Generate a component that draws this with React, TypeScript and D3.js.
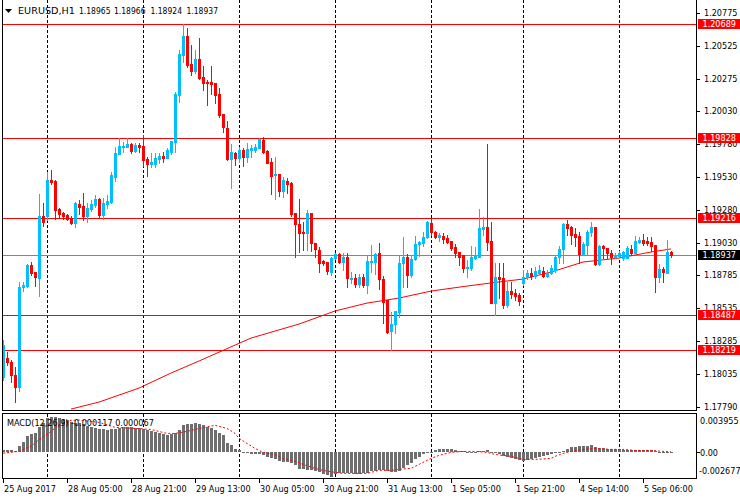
import React from 'react';
import * as d3 from 'd3';

// ---------- DATA ----------
const symbolTitle = 'EURUSD,H1';
const lastOHLC = [1.18965, 1.18966, 1.18924, 1.18937];

const open = [1.18015,1.18159,1.18128,1.18030,1.17939,1.18697,1.18704,1.18863,1.18810,1.18765,1.19235,1.19235,1.19507,1.19500,1.19288,1.19257,1.19242,1.19212,1.19182,1.19326,1.19310,1.19235,1.19288,1.19318,1.19363,1.19242,1.19326,1.19341,1.19530,1.19704,1.19757,1.19757,1.19780,1.19727,1.19772,1.19765,1.19666,1.19628,1.19628,1.19666,1.19689,1.19674,1.19719,1.19795,1.20151,1.20454,1.20598,1.20386,1.20333,1.20424,1.20288,1.20250,1.20250,1.20242,1.20159,1.20007,1.19901,1.19666,1.19712,1.19674,1.19735,1.19682,1.19735,1.19735,1.19750,1.19810,1.19727,1.19644,1.19545,1.19553,1.19424,1.19500,1.19485,1.19257,1.19174,1.19113,1.19106,1.19257,1.19030,1.18977,1.18894,1.18886,1.18810,1.18916,1.18947,1.18886,1.18924,1.18757,1.18765,1.18719,1.18772,1.18712,1.18886,1.18886,1.18954,1.18757,1.18598,1.18363,1.18416,1.18507,1.18879,1.18924,1.18788,1.18909,1.19022,1.19030,1.19076,1.19182,1.19113,1.19076,1.19083,1.19068,1.19045,1.19000,1.18962,1.18939,1.18841,1.18841,1.18916,1.18924,1.19136,1.19151,1.19045,1.18575,1.18772,1.18765,1.18560,1.18666,1.18651,1.18636,1.18727,1.18772,1.18803,1.18780,1.18803,1.18818,1.18780,1.18803,1.18826,1.18924,1.18985,1.19174,1.19151,1.19098,1.19083,1.18947,1.19015,1.19113,1.19151,1.18871,1.19007,1.18992,1.18954,1.18924,1.18932,1.18916,1.18916,1.18985,1.18954,1.19038,1.19053,1.19045,1.19038,1.19015,1.18772,1.18833,1.18803,1.18965];
const high = [1.18295,1.18204,1.18144,1.18091,1.18735,1.18735,1.18871,1.18886,1.18810,1.19401,1.19333,1.19568,1.19583,1.19507,1.19295,1.19265,1.19250,1.19235,1.19341,1.19356,1.19409,1.19333,1.19356,1.19394,1.19371,1.19371,1.19394,1.19568,1.19757,1.19826,1.19795,1.19826,1.19788,1.19788,1.19788,1.19848,1.19682,1.19712,1.19712,1.19712,1.19719,1.19750,1.19803,1.20174,1.20492,1.20689,1.20659,1.20530,1.20492,1.20583,1.20371,1.20265,1.20371,1.20242,1.20204,1.20007,1.19954,1.19780,1.19719,1.19757,1.19750,1.19788,1.19772,1.19780,1.19828,1.19833,1.19735,1.19674,1.19682,1.19553,1.19530,1.19523,1.19492,1.19257,1.19363,1.19189,1.19280,1.19257,1.19030,1.19000,1.18901,1.18886,1.18924,1.18954,1.18954,1.18954,1.18954,1.18810,1.18795,1.18795,1.18795,1.18939,1.19015,1.18954,1.19030,1.18780,1.18598,1.18507,1.18515,1.18939,1.19076,1.18947,1.18939,1.19083,1.19045,1.19113,1.19197,1.19212,1.19121,1.19106,1.19106,1.19091,1.19045,1.19022,1.18962,1.18939,1.18901,1.19007,1.19000,1.19288,1.19227,1.19780,1.19189,1.18879,1.18879,1.18879,1.18735,1.18735,1.18682,1.18651,1.18826,1.18826,1.18841,1.18848,1.18863,1.18848,1.18826,1.18863,1.18939,1.19007,1.19182,1.19204,1.19159,1.19144,1.19113,1.19038,1.19129,1.19189,1.19151,1.19015,1.19015,1.18992,1.18977,1.18954,1.18969,1.18969,1.19007,1.19015,1.19083,1.19076,1.19098,1.19076,1.19076,1.19015,1.18871,1.18848,1.19053,1.18966];
const low = [1.17992,1.18106,1.17977,1.17825,1.17909,1.18666,1.18697,1.18788,1.18704,1.18629,1.19159,1.19204,1.19477,1.19212,1.19227,1.19212,1.19204,1.19174,1.19151,1.19250,1.19204,1.19189,1.19272,1.19303,1.19227,1.19212,1.19295,1.19333,1.19500,1.19704,1.19719,1.19757,1.19712,1.19719,1.19719,1.19613,1.19538,1.19606,1.19606,1.19636,1.19644,1.19674,1.19704,1.19719,1.20098,1.20401,1.20363,1.20303,1.20318,1.20273,1.20189,1.20076,1.20159,1.20091,1.19985,1.19871,1.19659,1.19447,1.19621,1.19644,1.19613,1.19644,1.19682,1.19719,1.19750,1.19712,1.19636,1.19401,1.19363,1.19386,1.19379,1.19409,1.19235,1.18924,1.18962,1.18977,1.18977,1.18969,1.18924,1.18810,1.18863,1.18795,1.18788,1.18909,1.18879,1.18826,1.18697,1.18727,1.18697,1.18697,1.18697,1.18651,1.18810,1.18795,1.18682,1.18424,1.18348,1.18219,1.18348,1.18469,1.18697,1.18697,1.18772,1.18901,1.18932,1.19007,1.19068,1.19091,1.19068,1.19045,1.19030,1.19030,1.18977,1.18924,1.18863,1.18810,1.18772,1.18826,1.18909,1.18924,1.19091,1.18977,1.18575,1.18487,1.18613,1.18538,1.18545,1.18613,1.18598,1.18560,1.18712,1.18757,1.18757,1.18765,1.18795,1.18772,1.18772,1.18795,1.18810,1.18879,1.18879,1.19091,1.19022,1.19007,1.18879,1.18939,1.18939,1.19083,1.18863,1.18863,1.18916,1.18916,1.18871,1.18916,1.18924,1.18901,1.18916,1.18939,1.18954,1.19030,1.19015,1.19015,1.18969,1.18659,1.18735,1.18735,1.18803,1.18924];
const close = [1.18257,1.18128,1.18030,1.17939,1.18697,1.18712,1.18863,1.18803,1.18772,1.19235,1.19189,1.19507,1.19492,1.19280,1.19250,1.19235,1.19212,1.19182,1.19333,1.19303,1.19235,1.19295,1.19326,1.19363,1.19242,1.19333,1.19348,1.19545,1.19712,1.19765,1.19765,1.19780,1.19727,1.19772,1.19757,1.19659,1.19628,1.19644,1.19674,1.19689,1.19674,1.19735,1.19803,1.20159,1.20462,1.20598,1.20379,1.20333,1.20424,1.20280,1.20242,1.20242,1.20235,1.20151,1.20000,1.19909,1.19666,1.19719,1.19674,1.19735,1.19682,1.19742,1.19750,1.19757,1.19818,1.19719,1.19636,1.19538,1.19553,1.19424,1.19507,1.19477,1.19250,1.19174,1.19106,1.19106,1.19257,1.19030,1.18985,1.18879,1.18879,1.18818,1.18916,1.18947,1.18886,1.18924,1.18765,1.18765,1.18719,1.18772,1.18712,1.18894,1.18894,1.18947,1.18757,1.18583,1.18356,1.18416,1.18515,1.18879,1.18924,1.18788,1.18909,1.19022,1.19038,1.19076,1.19189,1.19113,1.19076,1.19091,1.19060,1.19038,1.18992,1.18954,1.18924,1.18841,1.18848,1.18924,1.18939,1.19144,1.19151,1.19038,1.18575,1.18772,1.18757,1.18560,1.18666,1.18644,1.18629,1.18591,1.18772,1.18803,1.18780,1.18818,1.18826,1.18780,1.18803,1.18841,1.18924,1.18985,1.19174,1.19144,1.19091,1.19076,1.18947,1.19022,1.19113,1.19151,1.18871,1.19007,1.18992,1.18954,1.18924,1.18939,1.18954,1.18962,1.18992,1.18954,1.19045,1.19053,1.19030,1.19030,1.19007,1.18772,1.18833,1.18810,1.18965,1.18937];

// moving average (read at key bars)
const maBars = [17,24,34,42,49,62,74,83,91,99,107,116,124,130,137,145,154,162,167];
const maValues = [1.17772,1.17825,1.17931,1.18045,1.18136,1.18310,1.18416,1.18515,1.18575,1.18613,1.18666,1.18704,1.18735,1.18757,1.18810,1.18886,1.18916,1.18962,1.18985];

// MACD main (histogram)
const macdMain = [0.00022,0.00022,0.00022,0.00011,0.00066,0.00110,0.00176,0.00198,0.00209,0.00276,0.00320,0.00375,0.003955,0.00386,0.00375,0.00364,0.00353,0.00331,0.00320,0.00320,0.00309,0.00287,0.00276,0.00264,0.00253,0.00253,0.00242,0.00253,0.00253,0.00264,0.00276,0.00276,0.00276,0.00264,0.00264,0.00253,0.00242,0.00231,0.00220,0.00209,0.00198,0.00187,0.00198,0.00209,0.00242,0.00298,0.00309,0.00309,0.00320,0.00309,0.00298,0.00276,0.00264,0.00242,0.00209,0.00187,0.00099,0.00077,0.00033,0.00022,0.00000,-0.00011,-0.00022,-0.00022,-0.00022,-0.00033,-0.00055,-0.00066,-0.00077,-0.00099,-0.00110,-0.00110,-0.00121,-0.00143,-0.00187,-0.00187,-0.00198,-0.00198,-0.00209,-0.00220,-0.00242,-0.00253,-0.002677,-0.00242,-0.00231,-0.00231,-0.00231,-0.00231,-0.00242,-0.00242,-0.00231,-0.00231,-0.00209,-0.00209,-0.00198,-0.00198,-0.00209,-0.00220,-0.00220,-0.00209,-0.00176,-0.00143,-0.00121,-0.00077,-0.00055,-0.00022,-0.00011,0.00002,0.00022,0.00033,0.00033,0.00033,0.00033,0.00022,0.00011,0.00011,0.00000,-0.00011,-0.00011,0.00011,0.00011,0.00022,0.00000,-0.00011,-0.00022,-0.00044,-0.00055,-0.00066,-0.00077,-0.00088,-0.00099,-0.00088,-0.00077,-0.00066,-0.00055,-0.00044,-0.00033,-0.00022,-0.00011,-0.00011,0.00011,0.00033,0.00055,0.00055,0.00066,0.00066,0.00066,0.00077,0.00055,0.00044,0.00044,0.00033,0.00033,0.00033,0.00033,0.00022,0.00022,0.00022,0.00022,0.00022,0.00022,0.00022,0.00022,0.00011,0.00000,-0.00011,-0.00011,-0.000117];

// MACD signal (read at key bars)
const sigBars = [0,4,7,9,12,14,17,19,24,28,33,37,41,43,46,49,53,56,58,59,61,63,65,68,70,73,75,78,80,83,85,88,91,94,97,99,102,104,107,109,112,115,118,121,123,127,130,133,137,138,140,142,145,148,152,155,158,162,165,167];
const sigValues = [-0.00008,0.00011,0.00066,0.00140,0.00231,0.00305,0.00353,0.00357,0.00331,0.00276,0.00264,0.00253,0.00209,0.00209,0.00231,0.00264,0.00298,0.00264,0.00209,0.00154,0.00099,0.00044,0,-0.00022,-0.00066,-0.00099,-0.00132,-0.00176,-0.00198,-0.00220,-0.00231,-0.00231,-0.00231,-0.00198,-0.00198,-0.00187,-0.00176,-0.00132,-0.00066,-0.00033,0,0.00011,0.00011,0,-0.00022,-0.00044,-0.00077,-0.00077,-0.00066,-0.00044,-0.00011,0.00011,0.00033,0.00044,0.00033,0.00033,0.00022,0.00022,0.00011,0.000067];

const priceTicks = [1.20775,1.20525,1.20275,1.20030,1.19780,1.19530,1.19280,1.19030,1.18785,1.18535,1.18285,1.18035,1.17790];
const levelLines = [1.20689,1.19828,1.19216,1.18487,1.18219];
const currentPrice = 1.18937;
const timeLabels = ['25 Aug 2017','28 Aug 05:00','28 Aug 21:00','29 Aug 13:00','30 Aug 05:00','30 Aug 21:00','31 Aug 13:00','1 Sep 05:00','1 Sep 21:00','4 Sep 14:00','5 Sep 06:00'];
const timeLabelBars = [0,16,32,48,64,80,96,112,128,144,160];
const daySeparatorBars = [11,35,59,83,107,130,154];
const macdRange = [-0.002677, 0.003955];
const macdParams = 'MACD(12,26,9)';

// ---------- LAYOUT ----------
const FONT = "'DejaVu Sans Condensed','DejaVu Sans',sans-serif";
const FS = 9;
const BULL = '#00bfff';
const BEAR = '#ff0000';
const AX = 696.5;
const HEADER_X = [79, 114, 150.5, 186.5];

export default function App() {
  const n = close.length;
  const x = d3.scaleLinear().domain([0, n - 1]).range([3, 3 + 4 * (n - 1)]);
  const y = d3.scaleLinear().domain([1.17790, 1.20775]).range([406.7, 12.7]);
  const ym = d3.scaleLinear().domain(macdRange).range([476.7, 416.5]);
  const snap = (v: number) => Math.round(v) + 0.5;

  const maLine = d3.line<number>().x((d, i) => x(maBars[i])).y(d => y(d))(maValues) || '';
  const sigLine = d3.line<number>().x((d, i) => x(sigBars[i])).y(d => ym(d))(sigValues) || '';

  const fmt5 = (v: number) => v.toFixed(5);

  return (
    <svg width={740} height={500} style={{ position: 'absolute', left: 0, top: 0, background: '#fff' }}
      fontFamily={FONT} fontSize={FS}>
      <defs>
        <clipPath id="mainClip"><rect x={2.5} y={0} width={AX - 2.5} height={410.5} /></clipPath>
        <clipPath id="macdClip"><rect x={2.5} y={413.5} width={AX - 2.5} height={64.5} /></clipPath>
      </defs>
      <rect x={0} y={0} width={740} height={500} fill="#fff" />

      {/* header */}
      <polygon points="5,9 12,9 8.5,13" fill="#000" />
      <text x={18} y={11} dominantBaseline="middle" fill="#000" textLength={57} lengthAdjust="spacingAndGlyphs">{symbolTitle}</text>
      {lastOHLC.map((v, k) => (
        <text key={'h' + k} x={HEADER_X[k]} y={11} dominantBaseline="middle" fill="#000" textLength={31.5} lengthAdjust="spacingAndGlyphs">{fmt5(v)}</text>
      ))}

      {/* day separators */}
      {daySeparatorBars.map(b => (
        <g key={'sep' + b}>
          <line x1={snap(x(b))} x2={snap(x(b))} y1={0} y2={410} stroke="#000" strokeDasharray="3,2" />
          <line x1={snap(x(b))} x2={snap(x(b))} y1={414} y2={478} stroke="#000" strokeDasharray="3,2" />
        </g>
      ))}

      {/* main panel content */}
      <g clipPath="url(#mainClip)" shapeRendering="crispEdges">
        {levelLines.map(v => (
          <line key={'lv' + v} x1={2} x2={AX} y1={snap(y(v))} y2={snap(y(v))} stroke="#ff0000" />
        ))}
        <line x1={2} x2={AX} y1={snap(y(currentPrice))} y2={snap(y(currentPrice))} stroke="#778899" />
        <path d={maLine} fill="none" stroke="#ff0000" strokeWidth={1} shapeRendering="auto" />
        {close.map((c, i) => {
          const o = open[i];
          const bull = c >= o;
          const col = bull ? BULL : BEAR;
          const xc = Math.round(x(i));
          const yt = Math.round(y(Math.max(o, c)));
          const yb = Math.round(y(Math.min(o, c)));
          const yh = Math.round(y(high[i]));
          const yl = Math.round(y(low[i]));
          return (
            <g key={'c' + i}>
              <rect x={xc} y={yh} width={1} height={Math.max(1, yl - yh + 1)} fill={col} />
              <rect x={xc - 1} y={yt} width={3} height={Math.max(1, yb - yt + 1)} fill={col} />
            </g>
          );
        })}
      </g>

      {/* MACD panel */}
      <g clipPath="url(#macdClip)" shapeRendering="crispEdges">
        {macdMain.map((v, i) => {
          const y0 = Math.round(ym(0));
          const yv = Math.round(ym(v));
          const top = Math.min(y0, yv);
          const h = Math.max(1, Math.abs(yv - y0));
          return <rect key={'m' + i} x={Math.round(x(i)) - 1} y={top} width={3} height={h} fill="#6e6e6e" />;
        })}
        <path d={sigLine} fill="none" stroke="#ff0000" strokeWidth={1} strokeDasharray="2,2" shapeRendering="auto" />
      </g>
      <text x={7} y={423} dominantBaseline="middle" fill="#000">
        {macdParams} {macdMain[n - 1].toFixed(6)} {sigValues[sigValues.length - 1].toFixed(6)}
      </text>

      {/* frames */}
      <g shapeRendering="crispEdges" stroke="#000" fill="none">
        <line x1={2.5} x2={2.5} y1={0} y2={411} />
        <line x1={2.5} x2={2.5} y1={413} y2={479} />
        <line x1={AX} x2={AX} y1={0} y2={411} />
        <line x1={AX} x2={AX} y1={413} y2={479} />
        <line x1={2} x2={AX + 0.5} y1={410.5} y2={410.5} />
        <line x1={2} x2={AX + 0.5} y1={413.5} y2={413.5} />
        <line x1={2} x2={AX + 0.5} y1={478.5} y2={478.5} />
      </g>

      {/* price axis */}
      {priceTicks.map(v => (
        <g key={'pt' + v}>
          <line x1={AX} x2={AX + 3} y1={snap(y(v))} y2={snap(y(v))} stroke="#000" shapeRendering="crispEdges" />
          <text x={704} y={y(v) + 0.5} dominantBaseline="middle" fill="#000">{fmt5(v)}</text>
        </g>
      ))}
      {levelLines.map(v => (
        <g key={'lb' + v}>
          <rect x={698} y={Math.round(y(v)) - 5} width={42} height={10} fill="#ff0000" />
          <text x={702.5} y={y(v) + 0.5} dominantBaseline="middle" fill="#fff">{fmt5(v)}</text>
        </g>
      ))}
      <rect x={698} y={Math.round(y(currentPrice)) - 5} width={42} height={10} fill="#000" />
      <text x={702.5} y={y(currentPrice) + 0.5} dominantBaseline="middle" fill="#fff">{fmt5(currentPrice)}</text>

      {/* MACD axis */}
      <line x1={AX} x2={AX + 3} y1={snap(ym(0))} y2={snap(ym(0))} stroke="#000" shapeRendering="crispEdges" />
      <text x={700} y={421} dominantBaseline="middle" fill="#000">{macdRange[1].toFixed(6)}</text>
      <text x={700} y={453.5} dominantBaseline="middle" fill="#000">0.00</text>
      <text x={699} y={471.5} dominantBaseline="middle" fill="#000">{macdRange[0].toFixed(6)}</text>

      {/* time axis */}
      {timeLabelBars.map((b, k) => (
        <g key={'tl' + b}>
          <line x1={snap(x(b))} x2={snap(x(b))} y1={479} y2={483} stroke="#000" shapeRendering="crispEdges" />
          <text x={Math.round(x(b)) + 1} y={489} dominantBaseline="middle" fill="#000">{timeLabels[k]}</text>
        </g>
      ))}
    </svg>
  );
}
